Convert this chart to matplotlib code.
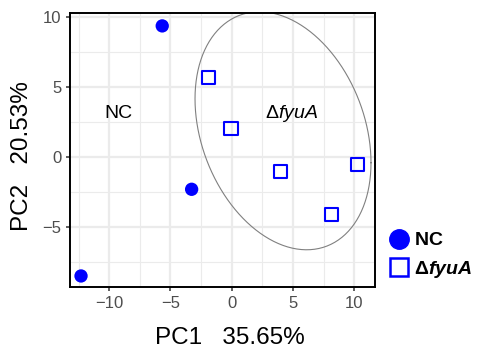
import numpy as np
import matplotlib
matplotlib.use("Agg")
import matplotlib.pyplot as plt
from matplotlib.lines import Line2D
from matplotlib.ticker import MultipleLocator

plt.rcParams['font.family'] = ['Liberation Sans', 'DejaVu Sans']
plt.rcParams['mathtext.fontset'] = 'custom'
plt.rcParams['mathtext.rm'] = 'Liberation Sans'
plt.rcParams['mathtext.it'] = 'Liberation Sans:italic'
plt.rcParams['mathtext.bf'] = 'Liberation Sans:bold'
plt.rcParams['mathtext.bfit'] = 'Liberation Sans:bold:italic'

# ---- data ----
nc_pc1 = [-5.67, -3.27, -12.30]
nc_pc2 = [9.34, -2.33, -8.52]
fyua_pc1 = [-1.91, -0.06, 3.97, 10.25, 8.16]
fyua_pc2 = [5.67, 2.00, -1.04, -0.57, -4.14]
# confidence ellipse of the ΔfyuA group
ellipse_center = [4.19, 1.85]
ellipse_shape = [[51.6, -16.4], [-16.4, 72.25]]
x_label = "PC1   35.65%"
y_label = "PC2   20.53%"
x_ticks = [-10, -5, 0, 5, 10]
y_ticks = [-5, 0, 5, 10]

fig = plt.figure(figsize=(4.78, 3.5), dpi=100)
ax = fig.add_axes([70 / 478, 1 - 287.3 / 350, (375 - 70) / 478, (287.3 - 13.3) / 350])

ax.set_xlim(-13.2, 11.7)
ax.set_ylim(-9.33, 10.24)
ax.xaxis.set_minor_locator(MultipleLocator(2.5))
ax.yaxis.set_minor_locator(MultipleLocator(2.5))
ax.set_xticks(x_ticks)
ax.set_yticks(y_ticks)
ax.set_xticklabels(["\u2212" + str(abs(t)) if t < 0 else str(t) for t in x_ticks])
ax.set_yticklabels(["\u2212" + str(abs(t)) if t < 0 else str(t) for t in y_ticks])
ax.grid(True, which='major', color='#EBEBEB', lw=1.6, zorder=0)
ax.grid(True, which='minor', color='#EBEBEB', lw=0.8, zorder=0)
ax.set_axisbelow(True)
ax.tick_params(which='major', direction='out', length=3, width=1.1, color='#333333',
               labelsize=12, labelcolor='#4D4D4D', pad=3)
ax.tick_params(which='minor', length=0)
for s in ax.spines.values():
    s.set_color('black')
    s.set_linewidth(1.4)

# ellipse from center + shape matrix (unit circle mapped through Cholesky factor)
R = np.linalg.cholesky(np.array(ellipse_shape)).T
ang = np.linspace(0, 2 * np.pi, 121)
circ = np.column_stack([np.cos(ang), np.sin(ang)])
ell = np.array(ellipse_center) + circ @ R
ax.plot(ell[:, 0], ell[:, 1], color='#808080', lw=0.8, zorder=2)

ax.scatter(nc_pc1, nc_pc2, s=92, marker='o', color='#0000FF', edgecolors='none', zorder=3)
ax.scatter(fyua_pc1, fyua_pc2, s=92, marker='s', facecolors='none', edgecolors='#0000FF',
           linewidths=1.5, zorder=3)

ax.text(-9.28, 3.1, "NC", fontsize=14, ha='center', va='center', color='black')
ax.text(4.92, 3.1, r"$\Delta\mathit{fyuA}$", fontsize=14, ha='center', va='center', color='black')

ax.set_xlabel(x_label, fontsize=17.5, color='black')
ax.set_ylabel(y_label, fontsize=17.5, color='black')
ax.xaxis.set_label_coords((229.5 - 70) / 305, -(338 - 287.3) / 274, transform=ax.transAxes)
ax.yaxis.set_label_coords(-(70 - 22) / 305, (287.3 - 156) / 274, transform=ax.transAxes)
ax.xaxis.label.set_va('center')
ax.yaxis.label.set_va('center')

handles = [
    Line2D([], [], marker='o', linestyle='none', markersize=14, markerfacecolor='#0000FF',
           markeredgecolor='#0000FF'),
    Line2D([], [], marker='s', linestyle='none', markersize=13, markerfacecolor='none',
           markeredgecolor='#0000FF', markeredgewidth=1.8),
]
labels = [r"$\mathbf{NC}$", r"$\mathbf{\Delta}\mathbfit{fyuA}$"]
fig.legend(handles, labels, loc='center left', bbox_to_anchor=(377 / 478, 1 - 256 / 350),
           frameon=False, fontsize=14, handlelength=0.9, handletextpad=0.3,
           labelspacing=0.5, borderpad=0.2)

fig.savefig("out.png", dpi=100)
